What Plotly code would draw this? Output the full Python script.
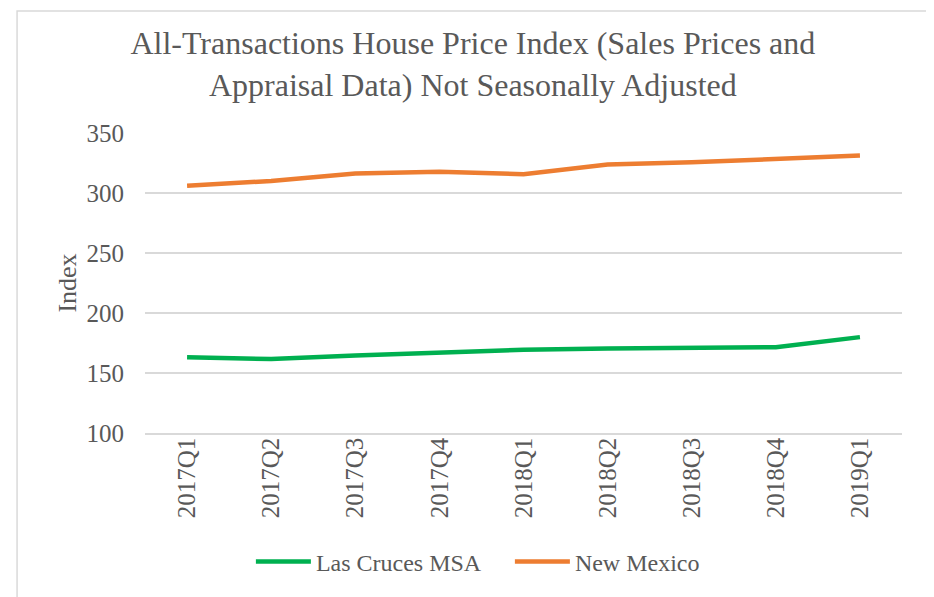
import plotly.graph_objects as go

quarters = ["2017Q1", "2017Q2", "2017Q3", "2017Q4", "2018Q1",
            "2018Q2", "2018Q3", "2018Q4", "2019Q1"]
las_cruces = [163.1, 161.6, 164.5, 166.6, 169.4, 170.4, 171.2, 171.5, 179.9]
new_mexico = [306.1, 310.0, 316.3, 317.8, 315.6, 323.8, 325.6, 328.7, 331.2]
y_ticks = [100, 150, 200, 250, 300, 350]

FONT = "Liberation Serif, Times New Roman, serif"
TXT = "#595959"

fig = go.Figure()
fig.add_trace(go.Scatter(x=quarters, y=las_cruces, name="Las Cruces MSA",
                         mode="lines", line=dict(color="#00B050", width=4.5)))
fig.add_trace(go.Scatter(x=quarters, y=new_mexico, name="New Mexico",
                         mode="lines", line=dict(color="#ED7D31", width=4.5)))

fig.update_layout(
    width=926, height=589,
    margin=dict(l=137, r=32, t=125, b=164),
    paper_bgcolor="white", plot_bgcolor="white",
    font=dict(family=FONT, color=TXT, size=24),
    title=dict(text="All-Transactions House Price Index (Sales Prices and<br>Appraisal Data) Not Seasonally Adjusted",
               x=0.502, xanchor="center", xref="container", y=0.922, yanchor="middle",
               yref="container",
               font=dict(size=32, color=TXT, family=FONT)),
    showlegend=True,
    legend=dict(orientation="h", xref="container", x=0.2623, xanchor="left",
                yref="container", y=0.0594, yanchor="middle",
                font=dict(size=24, color=TXT, family=FONT), itemwidth=55,
                entrywidth=189, entrywidthmode="pixels",
                traceorder="normal"),
    xaxis=dict(type="category", range=[-0.5, 8.5], tickangle=-90,
               showgrid=False, showline=True, linecolor="#D9D9D9", linewidth=1.5,
               ticks="", ticklabelstandoff=-7,
               tickfont=dict(size=25, color=TXT, family=FONT)),
    yaxis=dict(range=[100, 350], tickvals=y_ticks, showgrid=True,
               gridcolor="#D9D9D9", gridwidth=1.5, zeroline=False, showline=False,
               ticks="", ticklabelstandoff=20,
               title=dict(text="Index", standoff=2, font=dict(size=26, color=TXT, family=FONT)),
               tickfont=dict(size=25, color=TXT, family=FONT)),
)

fig.add_shape(type="rect", xref="paper", yref="paper",
              x0=-0.169, x1=1.0396, y0=-0.56, y1=1.4067,
              line=dict(color="#D9D9D9", width=1.5), fillcolor="rgba(0,0,0,0)", layer="below")

fig.write_html("out.html")
